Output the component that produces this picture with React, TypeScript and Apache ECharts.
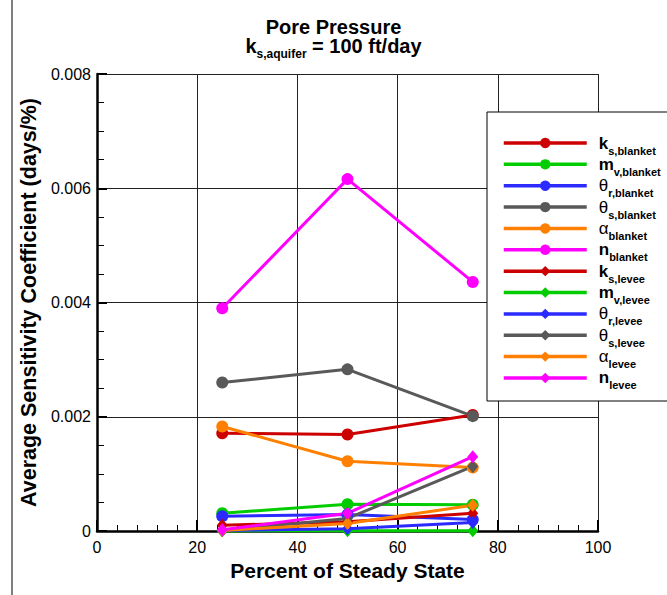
import React, { useEffect, useRef } from "react";
import * as echarts from "echarts";

const FONT = '"Liberation Sans", Arial, Helvetica, sans-serif';

// Percent of steady state (x positions)
const percentSteady = [25, 50, 75];

// Series values (Average Sensitivity Coefficient, days/%)
const ksBlanket = [0.00171, 0.00169, 0.00203];
const mvBlanket = [0.00031, 0.00047, 0.00046];
const thetaRBlanket = [0.00026, 0.00029, 0.0002];
const thetaSBlanket = [0.0026, 0.00283, 0.00201];
const alphaBlanket = [0.00183, 0.00122, 0.00111];
const nBlanket = [0.0039, 0.00616, 0.00436];
const ksLevee = [0.0001, 0.00016, 0.00031];
const mvLevee = [0.000002, 0.000003, 0.000004];
const thetaRLevee = [0.00001, 0.00004, 0.00015];
const thetaSLevee = [0.00001, 0.00022, 0.00113];
const alphaLevee = [0.00001, 0.00013, 0.00045];
const nLevee = [0.00002, 0.00031, 0.0013];

const seriesNames = [
  "ks_blanket", "mv_blanket", "thr_blanket", "ths_blanket", "alpha_blanket", "n_blanket",
  "ks_levee", "mv_levee", "thr_levee", "ths_levee", "alpha_levee", "n_levee",
];
const seriesValues = [
  ksBlanket, mvBlanket, thetaRBlanket, thetaSBlanket, alphaBlanket, nBlanket,
  ksLevee, mvLevee, thetaRLevee, thetaSLevee, alphaLevee, nLevee,
];
const legendLabels: Record<string, string> = {
  ks_blanket: "{m|k}{s|s,blanket}",
  mv_blanket: "{m|m}{s|v,blanket}",
  thr_blanket: "{g|θ}{s|r,blanket}",
  ths_blanket: "{g|θ}{s|s,blanket}",
  alpha_blanket: "{g|α}{s|blanket}",
  n_blanket: "{m|n}{s|blanket}",
  ks_levee: "{m|k}{s|s,levee}",
  mv_levee: "{m|m}{s|v,levee}",
  thr_levee: "{g|θ}{s|r,levee}",
  ths_levee: "{g|θ}{s|s,levee}",
  alpha_levee: "{g|α}{s|levee}",
  n_levee: "{m|n}{s|levee}",
};
const seriesColors = [
  "#cc0000", "#00cc00", "#2b2bff", "#595959", "#ff8000", "#ff00ff",
  "#cc0000", "#00cc00", "#2b2bff", "#595959", "#ff8000", "#ff00ff",
];
const seriesSymbols = [
  "circle", "circle", "circle", "circle", "circle", "circle",
  "diamond", "diamond", "diamond", "diamond", "diamond", "diamond",
];

const xTicks = { min: 0, max: 100, interval: 20 };
const yTicks = { min: 0, max: 0.008, interval: 0.002 };

export default function App() {
  const ref = useRef<HTMLDivElement>(null);
  useEffect(() => {
    document.body.style.margin = "0";
    if (!ref.current) return;
    const chart = echarts.init(ref.current, null, { renderer: "svg" });
    const series = seriesNames.map((name, i) => ({
      name,
      type: "line",
      data: percentSteady.map((x, j) => [x, seriesValues[i][j]]),
      symbol: seriesSymbols[i],
      symbolSize: seriesSymbols[i] === "circle" ? 12 : [11, 13],
      clip: false,
      lineStyle: { color: seriesColors[i], width: 3 },
      itemStyle: { color: seriesColors[i] },
      z: 5,
    }));
    chart.setOption({
      animation: false,
      backgroundColor: "#fff",
      textStyle: { fontFamily: FONT },
      title: [
        {
          text: "Pore Pressure",
          left: "center",
          top: 20,
          padding: 0,
          textStyle: { fontFamily: FONT, fontSize: 20, fontWeight: "bold", color: "#000", lineHeight: 14 },
        },
        {
          text: "{m|k}{s|s,aquifer}{m| = 100 ft/day}",
          left: "center",
          top: 38,
          padding: 0,
          textStyle: {
            rich: {
              m: { fontFamily: FONT, fontSize: 20, fontWeight: "bold", color: "#000", lineHeight: 16, verticalAlign: "middle" },
              s: { fontFamily: FONT, fontSize: 12, fontWeight: "bold", color: "#000", lineHeight: 1, padding: [16, 0, 0, 0], verticalAlign: "middle" },
            },
          },
        },
      ],
      grid: { left: 97, top: 74, right: 69, bottom: 64, containLabel: false },
      legend: {
        orient: "vertical",
        left: 502,
        top: 130,
        padding: 0,
        itemWidth: 83,
        itemHeight: 13,
        itemGap: -4.64,
        selectedMode: false,
        data: seriesNames,
        lineStyle: { width: 3.5 },
        formatter: (name: string) => legendLabels[name],
        textStyle: {
          padding: [0, 0, 0, 7],
          rich: {
            m: { fontFamily: FONT, fontSize: 17, fontWeight: "bold", color: "#000", lineHeight: 17, verticalAlign: "middle" },
            g: { fontFamily: FONT, fontSize: 17, color: "#000", lineHeight: 17, verticalAlign: "middle" },
            s: { fontFamily: FONT, fontSize: 11, fontWeight: "bold", color: "#000", lineHeight: 1, padding: [15, 0, 0, 0], verticalAlign: "middle" },
          },
        },
        z: 10,
      },
      graphic: [
        {
          type: "rect",
          shape: { x: 487, y: 112, width: 200, height: 289 },
          style: { fill: "#fff", stroke: "#000", lineWidth: 1 },
          z: 8,
        },
        {
          type: "line",
          shape: { x1: 12, y1: 0, x2: 12, y2: 595 },
          style: { stroke: "#000", lineWidth: 1 },
          z: 8,
        },
      ],
      xAxis: {
        type: "value",
        min: xTicks.min,
        max: xTicks.max,
        interval: xTicks.interval,
        name: "Percent of Steady State",
        nameLocation: "middle",
        nameGap: 16,
        nameTextStyle: { fontFamily: FONT, fontSize: 21, fontWeight: "bold", color: "#000" },
        axisLine: { onZero: false, lineStyle: { color: "#000", width: 2.5 } },
        axisTick: { inside: true, length: 11, lineStyle: { color: "#000", width: 2 } },
        minorTick: { show: true, splitNumber: 5, length: 6, lineStyle: { color: "#000", width: 1 } },
        splitLine: { show: true, lineStyle: { color: "#222", width: 1 } },
        axisLabel: { fontFamily: FONT, fontSize: 16, color: "#000", margin: 8 },
      },
      yAxis: {
        type: "value",
        min: yTicks.min,
        max: yTicks.max,
        interval: yTicks.interval,
        name: "Average Sensitivity Coefficient (days/%)",
        nameLocation: "middle",
        nameGap: 54,
        nameTextStyle: { fontFamily: FONT, fontSize: 21.5, fontWeight: "bold", color: "#000" },
        axisLine: { show: true, onZero: false, lineStyle: { color: "#000", width: 2.5 } },
        axisTick: { show: true, inside: true, length: 10, lineStyle: { color: "#000", width: 2 } },
        minorTick: { show: true, splitNumber: 4, length: 7, lineStyle: { color: "#000", width: 1 } },
        splitLine: { show: true, lineStyle: { color: "#222", width: 1 } },
        axisLabel: {
          fontFamily: FONT,
          fontSize: 16,
          color: "#000",
          margin: 6,
          formatter: (v: number) => (v === 0 ? "0" : v.toFixed(3)),
        },
      },
      series,
    });
    return () => chart.dispose();
  }, []);
  return <div ref={ref} style={{ width: 667, height: 595, position: "absolute", left: 0, top: 0 }} />;
}
